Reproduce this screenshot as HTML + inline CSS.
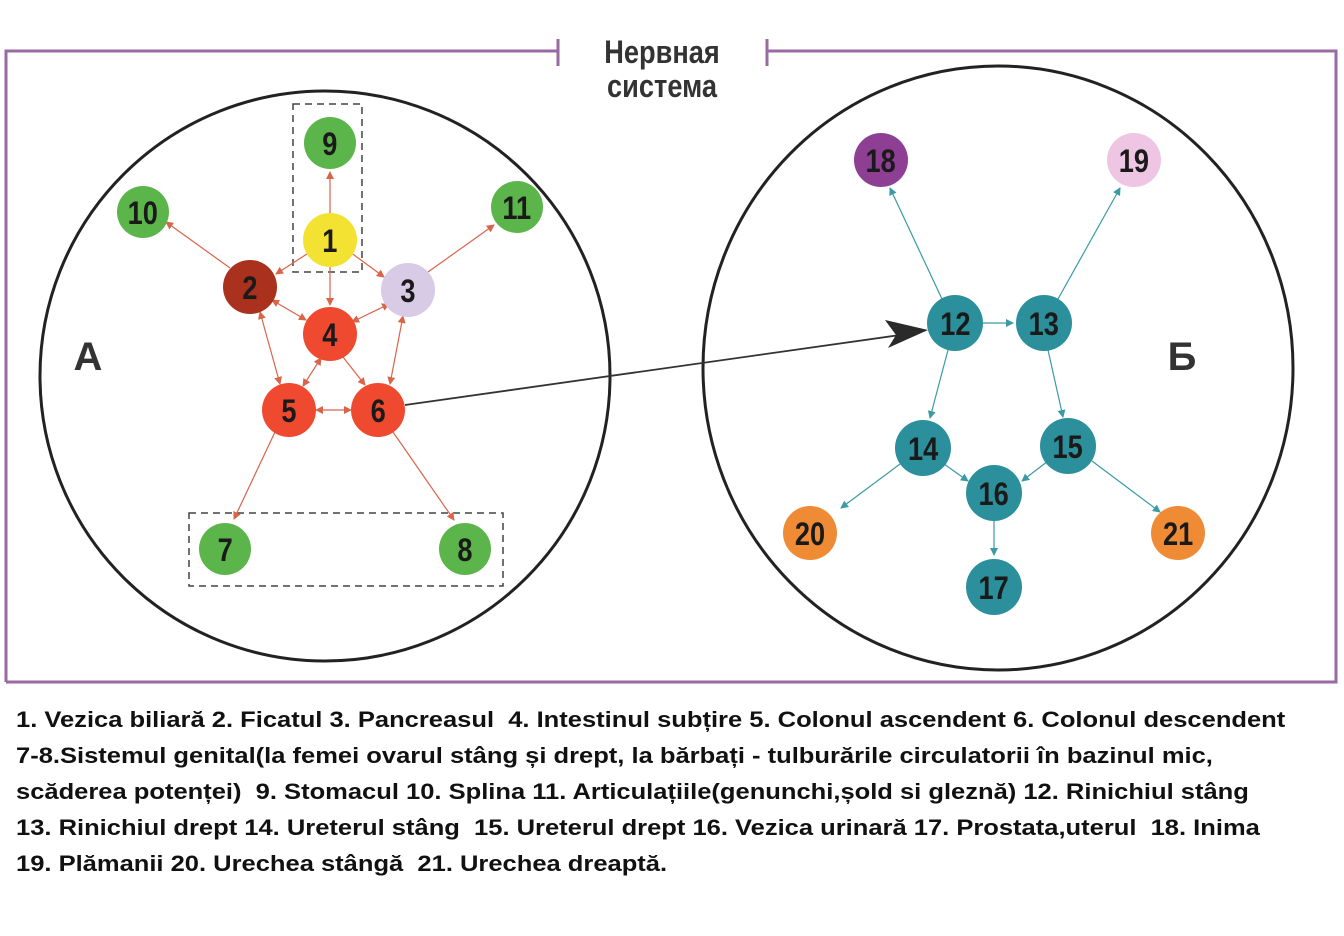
<!DOCTYPE html>
<html><head><meta charset="utf-8"><style>
body{margin:0;width:1344px;height:936px;background:#fff;overflow:hidden;font-family:"Liberation Sans",sans-serif}
svg{position:absolute;left:0;top:0}
.leg{position:absolute;left:16px;top:702px;font-weight:bold;font-size:22px;line-height:36px;color:#111;white-space:pre;transform:scaleX(1.16);transform-origin:0 0}
</style></head><body>
<svg width="1344" height="700" viewBox="0 0 1344 700">
<defs>
<marker id="r" markerWidth="8" markerHeight="8" refX="7" refY="4" orient="auto-start-reverse" markerUnits="userSpaceOnUse"><path d="M0,0L8,4L0,8z" fill="#d9644a"/></marker>
<marker id="t" markerWidth="8" markerHeight="8" refX="7" refY="4" orient="auto" markerUnits="userSpaceOnUse"><path d="M0,0L8,4L0,8z" fill="#3a9aa5"/></marker>
</defs>
<g stroke="#9a6aa2" stroke-width="3" fill="none">
<path d="M6,682V51H558M767,51H1336V682H6"/>
<path d="M558,39V66M767,39V66"/>
</g>
<g transform="translate(662,0) scale(0.85,1)">
<text x="0" y="63" text-anchor="middle" font-size="32" font-weight="bold" fill="#333">Нервная</text>
<text x="0" y="97" text-anchor="middle" font-size="32" font-weight="bold" fill="#333">система</text>
</g>
<ellipse cx="325" cy="376" rx="285" ry="285" stroke="#222" stroke-width="3" fill="none"/>
<ellipse cx="998" cy="368" rx="295" ry="302" stroke="#222" stroke-width="3" fill="none"/>
<text x="88" y="370" font-size="40" font-weight="bold" fill="#333" text-anchor="middle">А</text>
<text x="1182" y="370" font-size="40" font-weight="bold" fill="#333" text-anchor="middle">Б</text>
<g stroke="#444" stroke-width="1.5" stroke-dasharray="7,5" fill="none">
<rect x="293" y="104" width="69" height="168"/>
<rect x="189" y="513" width="314" height="73"/>
</g>
<g stroke="#d9644a" stroke-width="1.2" fill="none">
<line x1="330" y1="213" x2="330" y2="172" marker-end="url(#r)"/>
<line x1="330" y1="267" x2="330" y2="305" marker-end="url(#r)"/>
<line x1="310" y1="252" x2="276" y2="274" marker-end="url(#r)"/>
<line x1="350" y1="252" x2="384" y2="277" marker-end="url(#r)"/>
<line x1="230" y1="268" x2="166" y2="222" marker-end="url(#r)"/>
<line x1="428" y1="272" x2="494" y2="225" marker-end="url(#r)"/>
<line x1="272" y1="300" x2="306" y2="320" marker-start="url(#r)" marker-end="url(#r)"/>
<line x1="389" y1="304" x2="352" y2="322" marker-start="url(#r)" marker-end="url(#r)"/>
<line x1="260" y1="312" x2="280" y2="384" marker-start="url(#r)" marker-end="url(#r)"/>
<line x1="403" y1="316" x2="390" y2="384" marker-start="url(#r)" marker-end="url(#r)"/>
<line x1="321" y1="358" x2="303" y2="386" marker-start="url(#r)" marker-end="url(#r)"/>
<line x1="343" y1="357" x2="365" y2="385" marker-end="url(#r)"/>
<line x1="316" y1="410" x2="351" y2="410" marker-start="url(#r)" marker-end="url(#r)"/>
<line x1="275" y1="432" x2="234" y2="519" marker-end="url(#r)"/>
<line x1="393" y1="432" x2="454" y2="520" marker-end="url(#r)"/>
</g>
<g stroke="#3a9aa5" stroke-width="1.2" fill="none">
<line x1="942" y1="299" x2="890" y2="188" marker-end="url(#t)"/>
<line x1="1058" y1="299" x2="1120" y2="188" marker-end="url(#t)"/>
<line x1="983" y1="323" x2="1013" y2="323" marker-end="url(#t)"/>
<line x1="948" y1="350" x2="930" y2="418" marker-end="url(#t)"/>
<line x1="1048" y1="350" x2="1063" y2="417" marker-end="url(#t)"/>
<line x1="944" y1="464" x2="968" y2="481" marker-end="url(#t)"/>
<line x1="1048" y1="461" x2="1022" y2="481" marker-end="url(#t)"/>
<line x1="900" y1="464" x2="841" y2="508" marker-end="url(#t)"/>
<line x1="1092" y1="461" x2="1160" y2="512" marker-end="url(#t)"/>
<line x1="994" y1="520" x2="994" y2="555" marker-end="url(#t)"/>
</g>
<line x1="405" y1="405" x2="900" y2="335" stroke="#333" stroke-width="1.8"/>
<path d="M928,330L888,348L896,335L885,320z" fill="#2a2a2a"/>
<g fill="#5cb54a"><circle cx="330" cy="143" r="26"/><circle cx="143" cy="212" r="26"/><circle cx="517" cy="207" r="26"/><circle cx="225" cy="549" r="26"/><circle cx="465" cy="549" r="26"/></g>
<circle cx="330" cy="240" r="27" fill="#f4e233"/>
<circle cx="250" cy="287" r="27" fill="#a9311e"/>
<circle cx="408" cy="290" r="27" fill="#d8cbe6"/>
<g fill="#ef4a30"><circle cx="330" cy="334" r="27"/><circle cx="289" cy="410" r="27"/><circle cx="378" cy="410" r="27"/></g>
<g fill="#2b8f9c"><circle cx="955" cy="323" r="28"/><circle cx="1044" cy="323" r="28"/><circle cx="923" cy="448" r="28"/><circle cx="1068" cy="446" r="28"/><circle cx="994" cy="493" r="28"/><circle cx="994" cy="587" r="28"/></g>
<circle cx="881" cy="160" r="27" fill="#8e3f93"/>
<circle cx="1134" cy="160" r="27" fill="#eec6e4"/>
<g fill="#ef8a35"><circle cx="810" cy="533" r="27"/><circle cx="1178" cy="533" r="27"/></g>
<g font-size="32" font-weight="bold" text-anchor="middle" fill="#1a1a1a" transform="scale(0.85,1)">
<text x="388" y="155">9</text><text x="168" y="224">10</text><text x="608" y="219">11</text>
<text x="388" y="252">1</text><text x="294" y="299">2</text><text x="480" y="302">3</text>
<text x="388" y="346">4</text><text x="340" y="422">5</text><text x="445" y="422">6</text>
<text x="265" y="561">7</text><text x="547" y="561">8</text>
<text x="1124" y="335">12</text><text x="1228" y="335">13</text><text x="1086" y="460">14</text>
<text x="1256" y="458">15</text><text x="1169" y="505">16</text><text x="1169" y="599">17</text>
<text x="1036" y="172">18</text><text x="1334" y="172">19</text><text x="953" y="545">20</text><text x="1386" y="545">21</text>
</g>
</svg>
<div class="leg">1. Vezica biliară 2. Ficatul 3. Pancreasul  4. Intestinul subțire 5. Colonul ascendent 6. Colonul descendent
7-8.Sistemul genital(la femei ovarul stâng și drept, la bărbați - tulburările circulatorii în bazinul mic,
scăderea potenței)  9. Stomacul 10. Splina 11. Articulațiile(genunchi,șold si gleznă) 12. Rinichiul stâng
13. Rinichiul drept 14. Ureterul stâng  15. Ureterul drept 16. Vezica urinară 17. Prostata,uterul  18. Inima
19. Plămanii 20. Urechea stângă  21. Urechea dreaptă.</div>
</body></html>
